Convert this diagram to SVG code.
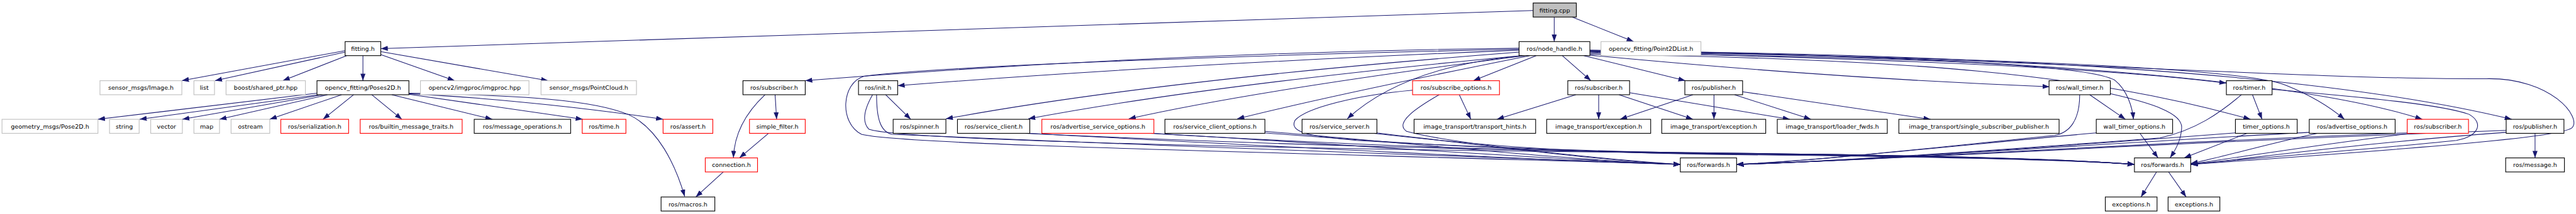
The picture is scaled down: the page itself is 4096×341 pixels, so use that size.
<svg xmlns="http://www.w3.org/2000/svg" width="4096" height="341" viewBox="0 0 4096 341">
<defs>
<style>
.n rect{fill:#fff;stroke:#000;stroke-width:1.4}
.n.g rect{stroke:#bfbfbf}
.n.r rect{stroke:#ff0000}
.n.c rect{fill:#bfbfbf}
.n text{font-family:"DejaVu Sans",sans-serif;font-size:12px;text-anchor:middle;fill:#000}
.e path{fill:none;stroke:#191970;stroke-width:1.3;marker-end:url(#arr)}
</style>
<marker id="arr" markerUnits="userSpaceOnUse" markerWidth="14" markerHeight="10" refX="14" refY="5" orient="auto" viewBox="0 0 14 10"><path d="M0,0 L14,5 L0,10 z" fill="#191970"/></marker>
</defs>
<rect width="4096" height="341" fill="#fff"/>
<g transform="scale(0.79875)">
<g id="edges" class="e">
<path d="M3052,21 L758,97"/>
<path d="M3094,34 L3094,83"/>
<path d="M3130,34 L3252,83"/>
<path d="M687,101 L362,161"/>
<path d="M687,104 L428,161"/>
<path d="M690,111 L563,161"/>
<path d="M722.5,111 L722.5,161"/>
<path d="M758,109 L905,161"/>
<path d="M758,103 L1091,161"/>
<path d="M631,186 L195,238"/>
<path d="M634,189 L278,238"/>
<path d="M642,189 L363,238"/>
<path d="M652,189 L437,238"/>
<path d="M680,189 L537,238"/>
<path d="M704,189 L643,238"/>
<path d="M740,189 L800,238"/>
<path d="M780,189 L980,238"/>
<path d="M814,188 L1160,238"/>
<path d="M814,187 C1000,196 1200,220 1320,238"/>
<path d="M814,186 C1050,190 1180,200 1250,228 C1310,255 1345,330 1363,392"/>
<path d="M1543,189 L1546,238"/>
<path d="M1523,189 C1490,220 1462,260 1460,315"/>
<path d="M1530,266 L1472,315"/>
<path d="M1440,343 L1385,393"/>
<path d="M3024,96 Q2300,105 1603,161"/>
<path d="M3024,100 Q2300,130 1787,171"/>
<path d="M3024,104 Q2300,160 1883,237"/>
<path d="M3028,111 Q2400,170 2047,237"/>
<path d="M3035,111 Q2500,180 2247,237"/>
<path d="M3045,111 Q2650,190 2463,237"/>
<path d="M3030,111 C2880,125 2760,165 2682,237"/>
<path d="M3058,111 L2933,161"/>
<path d="M3110,111 L3167,161"/>
<path d="M3153,111 L3355,161"/>
<path d="M3024,98 C2500,110 1900,130 1720,152 C1675,165 1670,245 1715,268 C1800,290 2600,305 3345,328"/>
<path d="M3165,110 C3400,132 3700,158 4080,173"/>
<path d="M3165,106 C3700,112 4150,125 4210,160 C4235,180 4245,215 4247,238"/>
<path d="M3165,104 C3700,115 4200,135 4432,166"/>
<path d="M3165,108 C3800,118 4150,145 4480,238"/>
<path d="M3165,103 C3800,112 4450,130 4550,170 C4600,190 4640,215 4667,238"/>
<path d="M3165,102 C3900,110 4550,150 4822,238"/>
<path d="M3165,101 C3900,108 4600,140 5000,238"/>
<path d="M3165,100 C3900,110 4600,160 4950,157 C5080,155 5140,235 5120,255 C5100,272 4900,290 4361,328"/>
<path d="M1763,189 L1813,238"/>
<path d="M1745,189 C1745,235 1752,262 1775,268 C2300,290 3000,318 3345,328"/>
<path d="M1737,189 C1725,210 1712,240 1730,258 C1800,282 2700,300 3400,305 C3900,310 4150,320 4249,328"/>
<path d="M2050,266 C2500,290 3100,322 3345,328"/>
<path d="M2040,266 C2600,292 3000,300 3400,305 C3900,310 4150,320 4249,328"/>
<path d="M2297,266 C2700,290 3150,322 3345,328"/>
<path d="M2290,266 C2700,290 3000,301 3400,306 C3900,311 4150,320 4249,328"/>
<path d="M2518,262 C2800,285 3150,322 3345,328"/>
<path d="M2518,265 C2800,288 3050,302 3400,307 C3900,312 4150,320 4249,328"/>
<path d="M2741,265 C2950,290 3200,322 3345,328"/>
<path d="M2735,266 C2950,290 3100,303 3400,308 C3900,313 4150,321 4249,328"/>
<path d="M2865,189 C2820,215 2775,245 2800,262 C2900,290 3250,322 3345,328"/>
<path d="M2812,180 C2700,190 2600,215 2578,240 C2565,265 2610,272 2700,280 C3000,298 3300,304 3400,306 C3900,311 4150,320 4249,328"/>
<path d="M2905,189 L2928,238"/>
<path d="M3137,189 L2980,238"/>
<path d="M3182.5,189 L3182.5,238"/>
<path d="M3223,189 L3370,238"/>
<path d="M3244,185 L3563,238"/>
<path d="M3370,189 L3225,238"/>
<path d="M3412,189 L3412,238"/>
<path d="M3453,189 L3605,238"/>
<path d="M3469,183 L3843,238"/>
<path d="M4160,189 L4231,238"/>
<path d="M4140,189 C4140,240 4120,265 4090,270 C3800,300 3600,322 3457,328"/>
<path d="M4201,187 C4280,205 4345,225 4343,255 C4342,280 4330,300 4320,315"/>
<path d="M4173,265 C3900,290 3600,322 3457,328"/>
<path d="M4260,266 L4296,315"/>
<path d="M4484,189 L4503,238"/>
<path d="M4462,189 C4420,225 4370,260 4300,275 C4000,298 3650,322 3457,328"/>
<path d="M4523,178 C4650,190 4850,205 4915,228 C4945,245 4935,272 4890,280 C4700,300 4450,318 4361,328"/>
<path d="M4450,265 C4150,288 3700,322 3457,328"/>
<path d="M4473,266 L4348,315"/>
<path d="M4597,264 C4200,285 3700,322 3457,328"/>
<path d="M4613,266 C4500,290 4420,315 4361,326"/>
<path d="M4792,265 C4300,283 3700,322 3457,328"/>
<path d="M4792,267 C4600,290 4420,320 4361,327"/>
<path d="M4989,260 C4400,280 3700,322 3457,328"/>
<path d="M4989,264 C4700,285 4450,320 4361,328"/>
<path d="M5046.5,266 L5046.5,315"/>
<path d="M4293,343 L4262,393"/>
<path d="M4317,343 L4352,393"/>
</g>
<g id="n_cpp" class="n c"><rect x="3052" y="6" width="86" height="28"/><text x="3095" y="24.5">fitting.cpp</text></g>
<g id="n_fh" class="n"><rect x="687" y="83" width="71" height="28"/><text x="722.5" y="101.5">fitting.h</text></g>
<g id="n_nh" class="n"><rect x="3024" y="83" width="141" height="28"/><text x="3094.5" y="101.5">ros/node_handle.h</text></g>
<g id="n_p2l" class="n g"><rect x="3187" y="83" width="199" height="28"/><text x="3286.5" y="101.5">opencv_fitting/Point2DList.h</text></g>
<g id="n_img" class="n g"><rect x="199" y="161" width="163" height="28"/><text x="280.5" y="179.5">sensor_msgs/Image.h</text></g>
<g id="n_list" class="n g"><rect x="386" y="161" width="41" height="28"/><text x="406.5" y="179.5">list</text></g>
<g id="n_boost" class="n g"><rect x="450" y="161" width="158" height="28"/><text x="529" y="179.5">boost/shared_ptr.hpp</text></g>
<g id="n_poses" class="n"><rect x="631" y="161" width="183" height="28"/><text x="722.5" y="179.5">opencv_fitting/Poses2D.h</text></g>
<g id="n_imgproc" class="n g"><rect x="837" y="161" width="216" height="28"/><text x="945" y="179.5">opencv2/imgproc/imgproc.hpp</text></g>
<g id="n_pc" class="n g"><rect x="1077" y="161" width="190" height="28"/><text x="1172" y="179.5">sensor_msgs/PointCloud.h</text></g>
<g id="n_sub1" class="n"><rect x="1479" y="161" width="124" height="28"/><text x="1541" y="179.5">ros/subscriber.h</text></g>
<g id="n_init" class="n"><rect x="1709" y="161" width="78" height="28"/><text x="1748" y="179.5">ros/init.h</text></g>
<g id="n_subopt" class="n r"><rect x="2812" y="161" width="173" height="28"/><text x="2898.5" y="179.5">ros/subscribe_options.h</text></g>
<g id="n_sub2" class="n"><rect x="3121" y="161" width="123" height="28"/><text x="3182.5" y="179.5">ros/subscriber.h</text></g>
<g id="n_pub1" class="n"><rect x="3354" y="161" width="115" height="28"/><text x="3411.5" y="179.5">ros/publisher.h</text></g>
<g id="n_wt" class="n"><rect x="4079" y="161" width="122" height="28"/><text x="4140" y="179.5">ros/wall_timer.h</text></g>
<g id="n_timer" class="n"><rect x="4432" y="161" width="91" height="28"/><text x="4477.5" y="179.5">ros/timer.h</text></g>
<g id="n_pose2d" class="n g"><rect x="4" y="238" width="191" height="28"/><text x="99.5" y="256.5">geometry_msgs/Pose2D.h</text></g>
<g id="n_string" class="n g"><rect x="218" y="238" width="59" height="28"/><text x="247.5" y="256.5">string</text></g>
<g id="n_vector" class="n g"><rect x="300" y="238" width="63" height="28"/><text x="331.5" y="256.5">vector</text></g>
<g id="n_map" class="n g"><rect x="386" y="238" width="51" height="28"/><text x="411.5" y="256.5">map</text></g>
<g id="n_ostream" class="n g"><rect x="460" y="238" width="77" height="28"/><text x="498.5" y="256.5">ostream</text></g>
<g id="n_ser" class="n r"><rect x="559" y="238" width="135" height="28"/><text x="626.5" y="256.5">ros/serialization.h</text></g>
<g id="n_bmt" class="n r"><rect x="717" y="238" width="203" height="28"/><text x="818.5" y="256.5">ros/builtin_message_traits.h</text></g>
<g id="n_mo" class="n"><rect x="944" y="238" width="192" height="28"/><text x="1040" y="256.5">ros/message_operations.h</text></g>
<g id="n_time" class="n r"><rect x="1159" y="238" width="87" height="28"/><text x="1202.5" y="256.5">ros/time.h</text></g>
<g id="n_assert" class="n r"><rect x="1320" y="238" width="99" height="28"/><text x="1369.5" y="256.5">ros/assert.h</text></g>
<g id="n_sf" class="n r"><rect x="1492" y="238" width="111" height="28"/><text x="1547.5" y="256.5">simple_filter.h</text></g>
<g id="n_spin" class="n"><rect x="1778" y="238" width="105" height="28"/><text x="1830.5" y="256.5">ros/spinner.h</text></g>
<g id="n_sc" class="n"><rect x="1906" y="238" width="144" height="28"/><text x="1978" y="256.5">ros/service_client.h</text></g>
<g id="n_aso" class="n r"><rect x="2074" y="238" width="223" height="28"/><text x="2185.5" y="256.5">ros/advertise_service_options.h</text></g>
<g id="n_sco" class="n"><rect x="2319" y="238" width="199" height="28"/><text x="2418.5" y="256.5">ros/service_client_options.h</text></g>
<g id="n_ss" class="n"><rect x="2592" y="238" width="149" height="28"/><text x="2666.5" y="256.5">ros/service_server.h</text></g>
<g id="n_th" class="n"><rect x="2815" y="238" width="242" height="28"/><text x="2936" y="256.5">image_transport/transport_hints.h</text></g>
<g id="n_exc1" class="n"><rect x="3079" y="238" width="207" height="28"/><text x="3182.5" y="256.5">image_transport/exception.h</text></g>
<g id="n_exc2" class="n"><rect x="3308" y="238" width="207" height="28"/><text x="3411.5" y="256.5">image_transport/exception.h</text></g>
<g id="n_lf" class="n"><rect x="3538" y="238" width="219" height="28"/><text x="3647.5" y="256.5">image_transport/loader_fwds.h</text></g>
<g id="n_ssp" class="n"><rect x="3780" y="238" width="319" height="28"/><text x="3939.5" y="256.5">image_transport/single_subscriber_publisher.h</text></g>
<g id="n_wto" class="n"><rect x="4173" y="238" width="152" height="28"/><text x="4249" y="256.5">wall_timer_options.h</text></g>
<g id="n_to" class="n"><rect x="4450" y="238" width="123" height="28"/><text x="4511.5" y="256.5">timer_options.h</text></g>
<g id="n_ao" class="n"><rect x="4597" y="238" width="171" height="28"/><text x="4682.5" y="256.5">ros/advertise_options.h</text></g>
<g id="n_sub3" class="n r"><rect x="4792" y="238" width="122" height="28"/><text x="4853" y="256.5">ros/subscriber.h</text></g>
<g id="n_pub2" class="n"><rect x="4989" y="238" width="115" height="28"/><text x="5046.5" y="256.5">ros/publisher.h</text></g>
<g id="n_conn" class="n r"><rect x="1404" y="315" width="104" height="28"/><text x="1456" y="333.5">connection.h</text></g>
<g id="n_fw1" class="n"><rect x="3345" y="315" width="112" height="28"/><text x="3401" y="333.5">ros/forwards.h</text></g>
<g id="n_fw2" class="n"><rect x="4249" y="315" width="112" height="28"/><text x="4305" y="333.5">ros/forwards.h</text></g>
<g id="n_msg" class="n"><rect x="4988" y="315" width="117" height="28"/><text x="5046.5" y="333.5">ros/message.h</text></g>
<g id="n_macros" class="n"><rect x="1316" y="393" width="107" height="28"/><text x="1369.5" y="411.5">ros/macros.h</text></g>
<g id="n_ex1" class="n"><rect x="4191" y="393" width="103" height="28"/><text x="4242.5" y="411.5">exceptions.h</text></g>
<g id="n_ex2" class="n"><rect x="4316" y="393" width="103" height="28"/><text x="4367.5" y="411.5">exceptions.h</text></g>
</g>
</svg>
